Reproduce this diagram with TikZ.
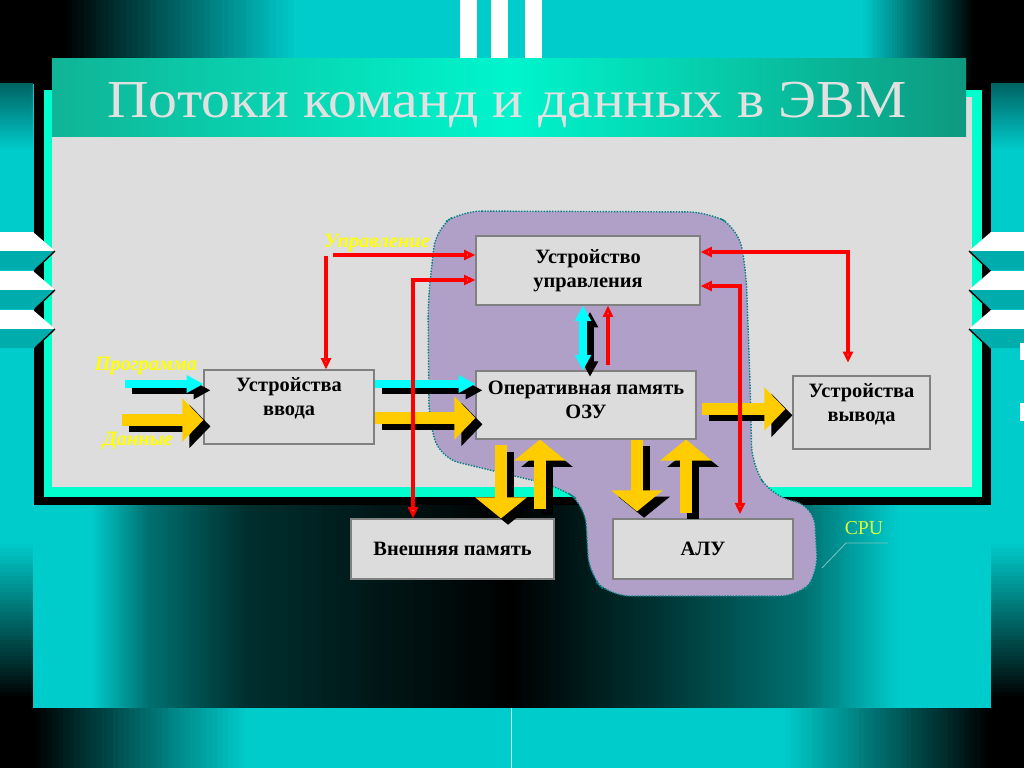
\documentclass[tikz,border=0pt]{standalone}
\usepackage{fontspec}
\setmainfont{Liberation Serif}
\newfontfamily\titlefont[FakeStretch=1.08]{Liberation Serif}
\usetikzlibrary{arrows.meta,positioning}
\definecolor{bgcyan}{RGB}{0,204,204}
\definecolor{tealA}{RGB}{0,110,110}
\definecolor{tealB}{RGB}{0,45,45}
\definecolor{tealC}{RGB}{0,100,100}
\definecolor{framecyan}{RGB}{0,255,204}
\definecolor{panelgray}{RGB}{221,221,221}
\definecolor{boxfill}{RGB}{220,220,220}
\definecolor{boxline}{RGB}{128,128,128}
\definecolor{barside}{RGB}{16,180,150}
\definecolor{barmid}{RGB}{0,245,205}
\definecolor{titlegray}{RGB}{225,225,225}
\definecolor{cpufill}{RGB}{176,160,200}
\definecolor{cpuedge}{RGB}{0,128,128}
\definecolor{labelyel}{RGB}{255,255,0}
\definecolor{cpuyel}{RGB}{220,255,60}
\definecolor{progcyan}{RGB}{0,255,255}
\definecolor{datyel}{RGB}{255,204,0}
% colour ramps made of thin strips: x1,x2,y1,y2,from,to
\newcommand{\hgrad}[6]{\foreach \i [evaluate=\i as \p using int(\i*100/39)] in {0,...,39}
  \fill[#6!\p!#5] ({#1+(#2-#1)*\i/40},#3) rectangle ({#1+(#2-#1)*(\i+1)/40+0.6},#4);}
\newcommand{\vgrad}[6]{\foreach \i [evaluate=\i as \p using int(\i*100/39)] in {0,...,39}
  \fill[#6!\p!#5] (#1,{#3+(#4-#3)*\i/40}) rectangle (#2,{#3+(#4-#3)*(\i+1)/40+0.6});}

\begin{document}
\begin{tikzpicture}[x=0.025cm,y=-0.025cm,
  box/.style={draw=boxline,fill=boxfill,line width=0.8pt,align=center,inner sep=0pt,font=\bfseries\fontsize{14.5}{17}\selectfont},
  lbl/.style={text=labelyel,font=\bfseries\itshape\fontsize{14.5}{17}\selectfont},
  ctl/.style={draw=red,line width=2.2pt,-{Triangle[length=8pt,width=7pt,fill=red!35]}},
  ctlboth/.style={draw=red,line width=2.2pt,{Triangle[length=8pt,width=7pt,fill=red!35]}-{Triangle[length=8pt,width=7pt,fill=red!35]}},
  prog/.style={draw=progcyan,line width=5pt,-{Triangle[length=12pt,width=12pt]}},
  progboth/.style={draw=progcyan,line width=5.5pt,{Triangle[length=11pt,width=11pt]}-{Triangle[length=11pt,width=11pt]}},
  dat/.style={draw=datyel,line width=8pt,-{Triangle[length=15pt,width=30pt]}},
  datv/.style={draw=datyel,line width=8pt,-{Triangle[length=15pt,width=36pt]}},
  shad/.style={draw=black,transform canvas={shift={(5pt,-4.5pt)}}},
  none/.style={}]
\useasboundingbox (0,0) rectangle (1024,768);
% background of the slide
\fill[bgcyan] (0,0) rectangle (1024,768);
\fill[black] (0,0) rectangle (60,84);
\hgrad{60}{300}{0}{84}{black}{bgcyan}
\hgrad{860}{975}{0}{84}{bgcyan}{black}
\fill[black] (975,0) rectangle (1024,84);
\foreach \xa in {0,991}{
  \vgrad{\xa}{\xa+33}{83}{151}{tealC}{bgcyan}
  \vgrad{\xa}{\xa+33}{540}{700}{bgcyan}{black}
  \fill[black] (\xa,700) rectangle (\xa+33,768);
}
\fill[black] (0,708) rectangle (30,768);
\hgrad{30}{250}{708}{768}{black}{bgcyan}
\hgrad{780}{990}{708}{768}{bgcyan}{black}
\fill[black] (990,708) rectangle (1024,768);
\hgrad{90}{150}{505}{708}{bgcyan}{tealA}
\hgrad{150}{250}{505}{708}{tealA}{tealB}
\hgrad{250}{510}{505}{708}{tealB}{black}
\hgrad{510}{640}{505}{708}{black}{tealB}
\hgrad{640}{800}{505}{708}{tealB}{tealA}
\hgrad{800}{900}{505}{708}{tealA}{bgcyan}
\foreach \x/\w in {460/17,491/17,525/17} \fill[white] (\x,0) rectangle (\x+\w,59);
\draw[white!80!bgcyan,line width=0.6pt] (511,708) -- (511,768);
% frame and panel
\fill[black] (34,82) rectangle (991,505);
\fill[framecyan] (44,90) rectangle (982,497);
\fill[panelgray] (52,97) rectangle (972,487);
\foreach \y in {232,271,310}{
  \fill[white] (0,\y) -- (33,\y) -- (55,\y+19) -- (0,\y+19) -- cycle;
  \fill[bgcyan!85!black] (0,\y+19) -- (55,\y+19) -- (35,\y+38) -- (0,\y+38) -- cycle;
  \draw[black,line width=1pt] (55,\y+19) -- (35,\y+38);
  \fill[white] (1024,\y) -- (991,\y) -- (969,\y+19) -- (1024,\y+19) -- cycle;
  \fill[bgcyan!85!black] (1024,\y+19) -- (969,\y+19) -- (989,\y+38) -- (1024,\y+38) -- cycle;
  \draw[black,line width=1pt] (969,\y+19) -- (989,\y+38);
}
\fill[white] (1020,343) rectangle (1024,360);
\fill[white] (1020,403) rectangle (1024,421);
\shade[left color=barside,right color=barside!85!black,middle color=barmid] (52,59) rectangle (966,137);
\node[anchor=base,text=titlegray,font=\titlefont\fontsize{38}{40}\selectfont] (title) at (507,118) {Потоки команд и данных в ЭВМ};
% CPU area
\filldraw[fill=cpufill,draw=cpuedge,densely dotted,line width=1pt,rounded corners=14pt]
  (462,211) -- (708,212) -- (738,228) -- (746,270) -- (750,380) -- (752,465) -- (772,496) -- (814,506)
  -- (818,575) -- (800,596) -- (610,596) -- (589,575) -- (585,505) -- (560,487) -- (440,458)
  -- (429,420) -- (428,300) -- (436,228) -- cycle;
\coordinate (cpuedgept) at (822,568);
\coordinate (cpubend) at (846,543);
\coordinate (cpuend) at (888,543);
\node[text=cpuyel,font=\fontsize{14}{16}\selectfont] (cpulbl) at (864,528) {CPU};
\draw[cpuedge!50!white,line width=0.6pt] (cpuedgept) -- (cpubend) -- (cpuend);
% blocks
\node[box,minimum width=5.6cm,minimum height=1.725cm] (uu) at (588,270.5) {Устройство\\управления};
\node[box,minimum width=5.5cm,minimum height=1.7cm,text depth=7pt] (ozu) at (586,405) {Оперативная память\\ОЗУ};
\node[box,minimum width=4.25cm,minimum height=1.85cm,text depth=14.5pt] (vvod) at (289,407) {Устройства\\ввода};
\node[box,minimum width=3.425cm,minimum height=1.825cm,text depth=14pt] (vyvod) at (861.5,412.5) {Устройства\\вывода};
\node[box,minimum width=5.075cm,minimum height=1.5cm] (vnesh) at (452.5,549) {Внешняя память};
\node[box,minimum width=4.5cm,minimum height=1.5cm] (alu) at (703,549) {АЛУ};
\node[lbl] (lblctl) at (377,243) {Управление};
\node[lbl] (lblprog) at (146,366) {Программа};
\node[lbl] (lbldat) at (138,441) {Данные};
% program and data flows, shadow first
\coordinate (progA) at (125,384);
\coordinate (progB) at (583,0);
\coordinate (datA) at (122,420);
\coordinate (datB) at (0,418);
\coordinate (datC) at (0,409);
\coordinate (datD) at (501,0);
\coordinate (datE) at (540,0);
\coordinate (datF) at (637,0);
\coordinate (datG) at (686,0);
\foreach \s in {shad,none}{
  \draw[prog,\s] (progA) -- (vvod.west |- progA);
  \draw[prog,\s] (vvod.east |- progA) -- (ozu.west |- progA);
  \draw[progboth,\s] (uu.south -| progB) -- (ozu.north -| progB);
  \draw[dat,\s] (datA) -- (vvod.west |- datA);
  \draw[dat,\s] (vvod.east |- datB) -- (ozu.west |- datB);
  \draw[dat,\s,shorten <=4pt,shorten >=5pt] (ozu.east |- datC) -- (vyvod.west |- datC);
  \draw[datv,\s,shorten <=4pt] (ozu.south -| datD) -- (vnesh.north -| datD);
  \draw[datv,\s,shorten <=7pt] (vnesh.north -| datE) -- (ozu.south -| datE);
  \draw[datv,\s,shorten >=5pt] (ozu.south -| datF) -- (alu.north -| datF);
  \draw[datv,\s,shorten <=4pt] (alu.north -| datG) -- (ozu.south -| datG);
}
% control signals
\coordinate (ctlA) at (326,256);
\coordinate (ctlB) at (333,255);
\coordinate (ctlC) at (413,280);
\coordinate (ctlD) at (848,252);
\coordinate (ctlE) at (740,286);
\coordinate (ctlF) at (608,0);
\draw[ctl] (ctlA) -- (vvod.north -| ctlA);
\draw[ctl] (ctlB) -- (uu.west |- ctlB);
\draw[ctlboth] (vnesh.north -| ctlC) |- (uu.west |- ctlC);
\draw[ctlboth,shorten >=9pt] (uu.east |- ctlD) -| (vyvod.north -| ctlD);
\draw[ctlboth,shorten >=3pt] (uu.east |- ctlE) -| (alu.north -| ctlE);
\draw[ctl,shorten <=4pt] (ozu.north -| ctlF) -- (uu.south -| ctlF);
\end{tikzpicture}
\end{document}
